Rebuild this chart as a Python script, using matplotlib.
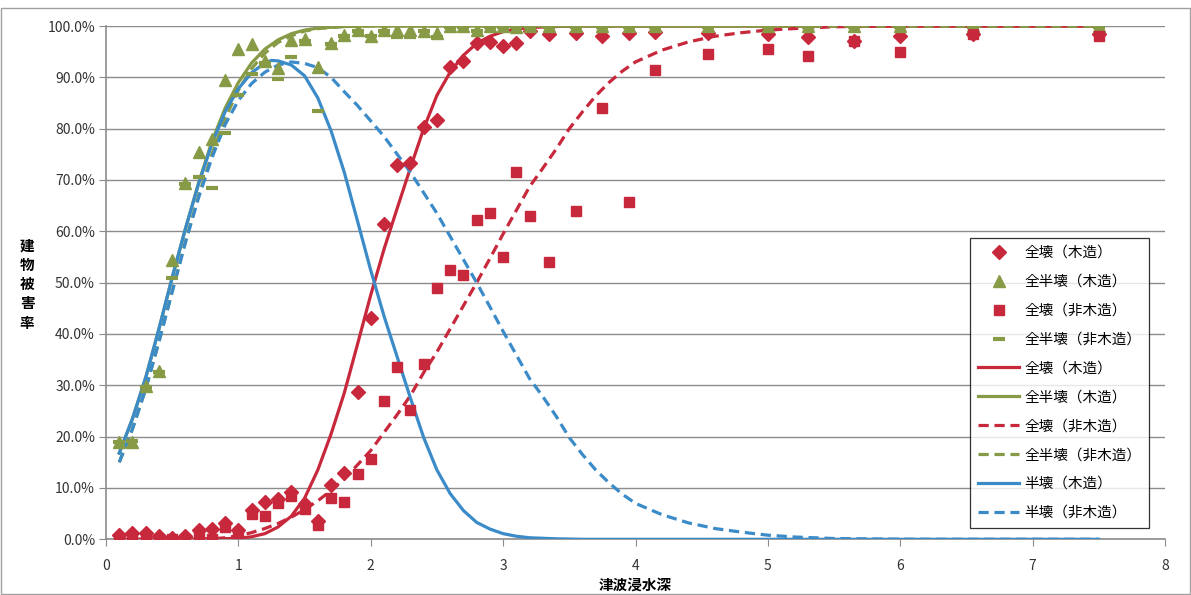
import matplotlib
matplotlib.use("Agg")
import matplotlib.pyplot as plt
from matplotlib.patches import Rectangle
from matplotlib.ticker import FuncFormatter, MultipleLocator

plt.rcParams['font.family'] = ['Noto Sans CJK JP', 'DejaVu Sans']

# ---- observed points (x = tsunami depth, y = damage rate %) ----
depth_pts = [0.1, 0.2, 0.3, 0.4, 0.5, 0.6, 0.7, 0.8, 0.9, 1.0,
             1.1, 1.2, 1.3, 1.4, 1.5, 1.6, 1.7, 1.8, 1.9, 2.0,
             2.1, 2.2, 2.3, 2.4, 2.5, 2.6, 2.7, 2.8, 2.9, 3.0,
             3.1, 3.2, 3.35, 3.55, 3.75, 3.95, 4.15, 4.55, 5.0, 5.3,
             5.65, 6.0, 6.55, 7.5]

full_wood = [0.8, 1.3, 1.3, 0.7, 0.3, 0.6, 1.9, 2.0, 3.2, 1.8,
             5.8, 7.3, 7.8, 9.3, 6.9, 3.5, 10.5, 13.0, 28.6, 43.1,
             61.4, 72.9, 73.4, 80.3, 81.6, 92.1, 93.2, 96.7, 96.8, 96.1,
             96.6, 99.1, 98.4, 98.6, 98.1, 98.7, 98.9, 98.6, 98.4, 97.8,
             97.1, 98.0, 98.4, 98.5]

half_wood = [19.0, 19.0, 29.9, 32.8, 54.4, 69.5, 75.5, 77.9, 89.5, 95.5,
             96.5, 93.2, 91.9, 97.3, 97.5, 92.1, 96.6, 98.2, 99.2, 98.0,
             99.2, 99.2, 99.2, 99.1, 98.7, 100.0, 100.0, 99.2, 100.0, 100.0,
             99.9, 100.0, 100.0, 100.0, 100.0, 100.0, 100.0, 100.0, 100.0, 100.0,
             100.0, 100.0, 100.0, 100.0]

full_nonwood = [0.1, 0.3, 0.3, 0.1, 0.0, 0.1, 0.9, 0.1, 2.3, 1.2,
                5.0, 4.5, 7.0, 8.5, 6.0, 2.8, 8.0, 7.2, 12.7, 15.6,
                26.9, 33.6, 25.2, 34.2, 48.9, 52.5, 51.5, 62.3, 63.6, 54.9,
                71.5, 63.0, 54.0, 64.0, 84.1, 65.8, 91.4, 94.5, 95.5, 94.2,
                97.1, 94.9, 98.4, 98.1]

half_nonwood = [19.0, 19.2, 29.6, 32.5, 51.0, 69.2, 70.5, 68.5, 79.1, 86.6,
                90.6, 92.8, 89.7, 94.0, 97.0, 83.5, 96.5, 98.0, 99.0, 98.0,
                99.0, 97.9, 97.9, 99.0, 97.9, 99.8, 99.8, 99.0, 99.8, 99.8,
                99.8, 99.8, 99.8, 99.8, 99.8, 99.8, 99.8, 99.8, 99.8, 99.8,
                99.8, 99.8, 99.8, 99.8]

# ---- fitted curves ----
curve_full_wood_x = [0.1, 0.5, 0.8, 1.0, 1.1, 1.2, 1.3, 1.4, 1.5, 1.6, 1.7, 1.8, 1.9,
                     2.0, 2.1, 2.2, 2.3, 2.4, 2.5, 2.6, 2.7, 2.8, 2.9, 3.0, 3.1, 3.2,
                     3.4, 3.6, 7.5]
curve_full_wood_y = [0.0, 0.0, 0.05, 0.2, 0.5, 1.1, 2.4, 4.5, 8.0, 13.5, 20.5, 28.5, 38.0,
                     47.6, 56.5, 64.5, 72.4, 80.0, 86.5, 91.0, 94.3, 96.6, 98.0, 98.9, 99.4, 99.7,
                     99.9, 100.0, 100.0]

curve_half_wood_x = [0.1, 0.2, 0.3, 0.4, 0.5, 0.6, 0.7, 0.8, 0.9, 1.0, 1.1, 1.2, 1.3,
                     1.4, 1.5, 1.6, 1.8, 2.0, 7.5]
curve_half_wood_y = [16.8, 23.5, 31.5, 41.0, 51.0, 60.5, 69.5, 77.5, 84.0, 89.0, 92.8, 95.5, 97.3,
                     98.5, 99.2, 99.6, 99.9, 100.0, 100.0]

curve_full_nonwood_x = [0.1, 0.5, 0.8, 0.9, 1.0, 1.1, 1.2, 1.3, 1.4, 1.5, 1.6, 1.7, 1.8,
                        1.9, 2.0, 2.1, 2.2, 2.3, 2.4, 2.5, 2.6, 2.7, 2.8, 2.9, 3.0, 3.1,
                        3.2, 3.3, 3.4, 3.5, 3.6, 3.7, 3.8, 3.9, 4.0, 4.2, 4.4, 4.6, 4.8,
                        5.0, 5.2, 5.5, 6.0, 7.5]
curve_full_nonwood_y = [0.0, 0.0, 0.1, 0.3, 0.7, 1.3, 2.1, 3.1, 4.3, 5.8, 7.5, 9.5, 11.8,
                        14.5, 17.3, 20.8, 24.3, 28.0, 32.5, 36.5, 41.0, 45.5, 50.0, 54.7, 59.5, 64.1,
                        68.7, 72.3, 76.0, 80.0, 83.3, 86.4, 89.0, 91.2, 93.0, 95.3, 96.9, 98.0, 98.7,
                        99.2, 99.5, 99.85, 99.98, 100.0]

curve_half_nonwood_x = [0.1, 0.2, 0.3, 0.4, 0.5, 0.6, 0.7, 0.8, 0.9, 1.0, 1.1, 1.2, 1.3,
                        1.4, 1.5, 1.6, 1.8, 2.0, 7.5]
curve_half_nonwood_y = [15.0, 21.5, 29.3, 38.5, 48.3, 58.0, 67.0, 75.0, 82.0, 87.5, 91.7, 94.7, 96.8,
                        98.1, 99.0, 99.5, 99.9, 100.0, 100.0]

curve_semi_wood_x = [0.1, 0.2, 0.3, 0.4, 0.5, 0.6, 0.7, 0.8, 0.9, 1.0, 1.1, 1.2, 1.25, 1.3,
                     1.4, 1.5, 1.6, 1.7, 1.8, 1.9, 2.0, 2.1, 2.2, 2.3, 2.4, 2.5, 2.6,
                     2.7, 2.8, 2.9, 3.0, 3.1, 3.2, 3.4, 3.6, 7.5]
curve_semi_wood_y = [16.8, 23.5, 31.5, 41.0, 51.0, 60.5, 69.3, 77.0, 83.3, 87.8, 90.9, 92.8, 93.3, 93.2,
                     92.4, 90.3, 86.0, 79.6, 71.5, 62.0, 52.4, 43.5, 35.5, 27.5, 19.8, 13.5, 8.9,
                     5.6, 3.3, 2.0, 1.1, 0.6, 0.3, 0.1, 0.0, 0.0]

curve_semi_nonwood_x = [0.1, 0.2, 0.3, 0.4, 0.5, 0.6, 0.7, 0.8, 0.9, 1.0, 1.1, 1.2, 1.3,
                        1.4, 1.5, 1.6, 1.7, 1.8, 1.9, 2.0, 2.1, 2.2, 2.3, 2.4, 2.5, 2.6,
                        2.7, 2.8, 2.9, 3.0, 3.1, 3.2, 3.3, 3.4, 3.5, 3.6, 3.7, 3.8, 3.9,
                        4.0, 4.2, 4.4, 4.6, 4.8, 5.0, 5.2, 5.5, 6.0, 7.5]
curve_semi_nonwood_y = [15.0, 21.5, 29.3, 38.5, 48.2, 57.8, 66.6, 74.3, 80.8, 85.5, 88.8, 91.0, 92.4,
                        93.0, 92.7, 91.9, 90.0, 87.2, 84.5, 81.5, 78.5, 75.0, 71.5, 67.5, 63.5, 59.0,
                        54.5, 50.0, 45.3, 40.5, 35.9, 31.3, 27.8, 24.0, 19.8, 16.5, 13.5, 11.0, 8.8,
                        7.0, 4.8, 3.2, 2.1, 1.4, 0.8, 0.45, 0.15, 0.02, 0.0]

labels = ['全壊（木造）', '全半壊（木造）', '全壊（非木造）', '全半壊（非木造）',
          '全壊（木造）', '全半壊（木造）', '全壊（非木造）', '全半壊（非木造）',
          '半壊（木造）', '半壊（非木造）']

RED = '#C8283C'
GREEN = '#879A45'
BLUE = '#3B8BC9'
GRID = '#8C8C8C'

fig = plt.figure(figsize=(11.91, 5.95), dpi=100)
ax = fig.add_axes([106 / 1191, 1 - 539.3 / 595, (1165 - 106) / 1191, (539.3 - 26) / 595])

fig.patches.append(Rectangle((0.5 / 1191, 1 / 595), 1189.5 / 1191, (586 / 595), transform=fig.transFigure,
                             fill=False, edgecolor='#A0A0A0', linewidth=1.0))

lw = 2.3
dash = (0, (3.2, 1.8))

h = []
h.append(ax.plot(depth_pts, full_wood, linestyle='none', marker='D', ms=7, color=RED, zorder=5)[0])
h.append(ax.plot(depth_pts, half_wood, linestyle='none', marker='^', ms=9, color=GREEN, zorder=5)[0])
h.append(ax.plot(depth_pts, full_nonwood, linestyle='none', marker='s', ms=6.5, color=RED, zorder=5)[0])
h.append(ax.plot(depth_pts, half_nonwood, linestyle='none', marker='_', ms=9, mew=3, color=GREEN, zorder=5)[0])
h.append(ax.plot(curve_full_wood_x, curve_full_wood_y, color=RED, lw=lw, zorder=4)[0])
h.append(ax.plot(curve_half_wood_x, curve_half_wood_y, color=GREEN, lw=lw, zorder=4)[0])
h.append(ax.plot(curve_full_nonwood_x, curve_full_nonwood_y, color=RED, lw=lw, ls=dash, zorder=4)[0])
h.append(ax.plot(curve_half_nonwood_x, curve_half_nonwood_y, color=GREEN, lw=lw, ls=dash, zorder=4)[0])
h.append(ax.plot(curve_semi_wood_x, curve_semi_wood_y, color=BLUE, lw=lw, zorder=4)[0])
h.append(ax.plot(curve_semi_nonwood_x, curve_semi_nonwood_y, color=BLUE, lw=lw, ls=dash, zorder=4)[0])

ax.set_xlim(0, 8)
ax.set_ylim(0, 100)
ax.xaxis.set_major_locator(MultipleLocator(1))
ax.yaxis.set_major_locator(MultipleLocator(10))
ax.yaxis.set_major_formatter(FuncFormatter(lambda v, p: f'{v:.1f}%'))
ax.grid(axis='y', color=GRID, linewidth=1.0, zorder=0)
ax.set_axisbelow(True)
for s in ['top', 'right']:
    ax.spines[s].set_visible(False)
for s in ['left', 'bottom']:
    ax.spines[s].set_color(GRID)
    ax.spines[s].set_linewidth(1.2)
ax.tick_params(axis='both', direction='out', length=5, color=GRID, labelsize=10,
               labelcolor='#333333')
ax.tick_params(axis='x', pad=9)
ax.tick_params(axis='y', pad=3)

ax.set_xlabel('津波浸水深', fontsize=10.5, fontweight='bold', labelpad=3)
fig.text(27 / 1191, 1 - 284 / 595, '\n'.join('建物被害率'), fontsize=10.5, fontweight='bold',
         ha='center', va='center', linespacing=1.25)

leg = ax.legend(h, labels, loc='upper left', bbox_to_anchor=(0.816, 0.587), borderaxespad=0,
                fontsize=10.5, frameon=True, fancybox=False, edgecolor='#000000',
                labelspacing=1.02, handlelength=2.8, handletextpad=0.35, borderpad=0.55,
                numpoints=1)
leg.get_frame().set_linewidth(0.9)
leg.set_zorder(10)

fig.savefig('out.png', dpi=100, facecolor='white')
